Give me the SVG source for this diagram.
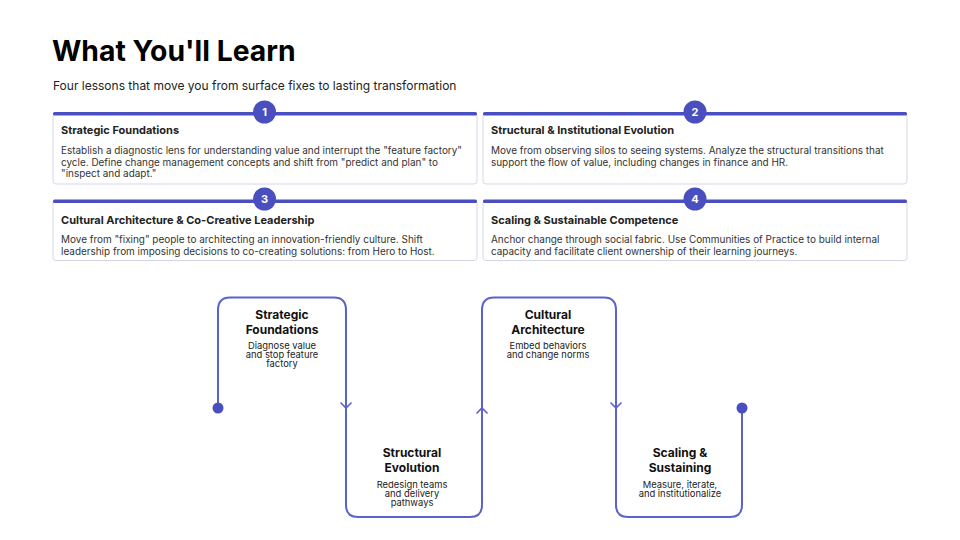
<svg xmlns="http://www.w3.org/2000/svg" width="960" height="540" viewBox="0 0 960 540">
<defs>
<style>
.t{font-family:Inter,"Liberation Sans",sans-serif;}
.h1{font-size:28.3px;font-weight:700;fill:#000}
.sub{font-size:12px;fill:#222}
.card{fill:#fff;stroke:#d6d6e6;stroke-width:1}
.bar{fill:#4a4fc0}
.badge{fill:#4a4fc0}
.bn{font-size:11px;font-weight:700;fill:#fff;text-anchor:middle}
.ct{font-size:11px;font-weight:700;fill:#222}
.cb{font-size:9.95px;fill:#333}
.path{fill:none;stroke:#5d61cc;stroke-width:2;stroke-linejoin:round}
.dot{fill:#4a4fc0}
.nt{font-size:12px;font-weight:700;fill:#111;text-anchor:middle}
.ns{font-size:9.4px;fill:#222;text-anchor:middle}
</style>
<marker id="arr" viewBox="-7 -7 14 14" refX="0" refY="0" markerWidth="14" markerHeight="14" markerUnits="userSpaceOnUse" orient="auto">
<path d="M-5.5 -5.5 L0 0 L-5.5 5.5" fill="none" stroke="#5d61cc" stroke-width="1.6"/>
</marker>
</defs>
<rect width="960" height="540" fill="#fff"/>

<text class="t h1" x="52" y="61">What You'll Learn</text>
<text class="t sub" x="53" y="89.5">Four lessons that move you from surface fixes to lasting transformation</text>

<g id="card1">
<rect class="card" x="53" y="113" width="424" height="71" rx="3"/>
<rect class="bar" x="53" y="112" width="424" height="3.5" rx="1.5"/>
<circle class="badge" cx="264.5" cy="112" r="11.5"/>
<text class="t bn" x="264.5" y="116">1</text>
<text class="t ct" x="61" y="134">Strategic Foundations</text>
<text class="t cb" x="61" y="154">Establish a diagnostic lens for understanding value and interrupt the "feature factory"</text>
<text class="t cb" x="61" y="165.7">cycle. Define change management concepts and shift from "predict and plan" to</text>
<text class="t cb" x="61" y="177.4">"inspect and adapt."</text>
</g>

<g id="card2">
<rect class="card" x="483" y="113" width="424" height="71" rx="3"/>
<rect class="bar" x="483" y="112" width="424" height="3.5" rx="1.5"/>
<circle class="badge" cx="695" cy="112" r="11.5"/>
<text class="t bn" x="695" y="116">2</text>
<text class="t ct" x="491" y="134">Structural &amp; Institutional Evolution</text>
<text class="t cb" x="491" y="154">Move from observing silos to seeing systems. Analyze the structural transitions that</text>
<text class="t cb" x="491" y="165.7">support the flow of value, including changes in finance and HR.</text>
</g>

<g id="card3">
<rect class="card" x="53" y="200.5" width="424" height="60" rx="3"/>
<rect class="bar" x="53" y="199.5" width="424" height="3.5" rx="1.5"/>
<circle class="badge" cx="264.5" cy="199" r="11.5"/>
<text class="t bn" x="264.5" y="203">3</text>
<text class="t ct" x="61" y="223.5">Cultural Architecture &amp; Co-Creative Leadership</text>
<text class="t cb" x="61" y="243">Move from "fixing" people to architecting an innovation-friendly culture. Shift</text>
<text class="t cb" x="61" y="254.7">leadership from imposing decisions to co-creating solutions: from Hero to Host.</text>
</g>

<g id="card4">
<rect class="card" x="483" y="200.5" width="424" height="60" rx="3"/>
<rect class="bar" x="483" y="199.5" width="424" height="3.5" rx="1.5"/>
<circle class="badge" cx="695" cy="199" r="11.5"/>
<text class="t bn" x="695" y="203">4</text>
<text class="t ct" x="491" y="223.5">Scaling &amp; Sustainable Competence</text>
<text class="t cb" x="491" y="243">Anchor change through social fabric. Use Communities of Practice to build internal</text>
<text class="t cb" x="491" y="254.7">capacity and facilitate client ownership of their learning journeys.</text>
</g>

<g id="connectors">
<path class="path" d="M218 408 V310 Q218 297.5 230 297.5 H334 Q346 297.5 346 310 V408" marker-end="url(#arr)"/>
<path class="path" d="M346 408 V505 Q346 517 358 517 H470 Q482 517 482 505 V408" marker-end="url(#arr)"/>
<path class="path" d="M482 408 V310 Q482 297.5 494 297.5 H604 Q616 297.5 616 310 V408" marker-end="url(#arr)"/>
<path class="path" d="M616 408 V505 Q616 517 628 517 H730 Q742 517 742 505 V408"/>
<circle class="dot" cx="218" cy="408" r="5.5"/>
<circle class="dot" cx="742" cy="408" r="5.5"/>
</g>

<g id="step1">
<text class="t nt" x="282" y="319">Strategic</text>
<text class="t nt" x="282" y="333.5">Foundations</text>
<text class="t ns" x="282" y="348.5">Diagnose value</text>
<text class="t ns" x="282" y="357.5">and stop feature</text>
<text class="t ns" x="282" y="366.5">factory</text>
</g>
<g id="step2">
<text class="t nt" x="412" y="457">Structural</text>
<text class="t nt" x="412" y="471.5">Evolution</text>
<text class="t ns" x="412" y="487.5">Redesign teams</text>
<text class="t ns" x="412" y="496.5">and delivery</text>
<text class="t ns" x="412" y="505.5">pathways</text>
</g>
<g id="step3">
<text class="t nt" x="548" y="319">Cultural</text>
<text class="t nt" x="548" y="333.5">Architecture</text>
<text class="t ns" x="548" y="348.5">Embed behaviors</text>
<text class="t ns" x="548" y="357.5">and change norms</text>
</g>
<g id="step4">
<text class="t nt" x="680" y="457">Scaling &amp;</text>
<text class="t nt" x="680" y="471.5">Sustaining</text>
<text class="t ns" x="680" y="487.5">Measure, iterate,</text>
<text class="t ns" x="680" y="496.5">and institutionalize</text>
</g>
</svg>
